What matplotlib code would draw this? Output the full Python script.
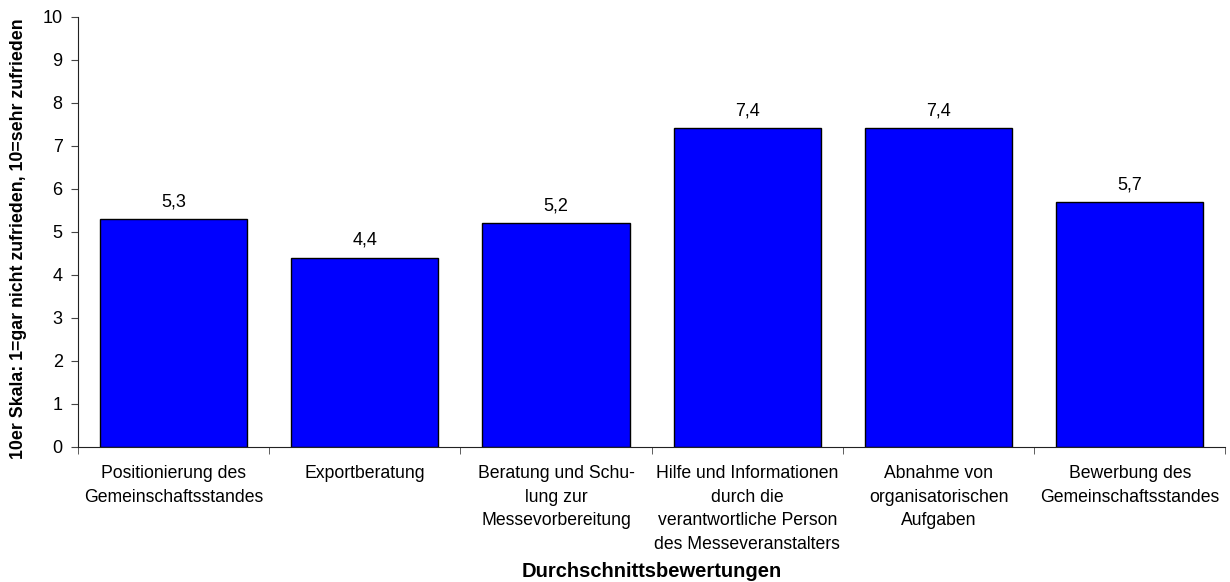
import matplotlib.pyplot as plt
import numpy as np

plt.rcParams['font.family'] = ['Liberation Sans', 'DejaVu Sans']

# Kategorien und Durchschnittswerte
categories = [
    'Positionierung des\nGemeinschaftsstandes',
    'Exportberatung',
    'Beratung und Schu-\nlung zur\nMessevorbereitung',
    'Hilfe und Informationen\ndurch die\nverantwortliche Person\ndes Messeveranstalters',
    'Abnahme von\norganisatorischen\nAufgaben',
    'Bewerbung des\nGemeinschaftsstandes',
]
values = [5.3, 4.4, 5.2, 7.4, 7.4, 5.7]
yticks = list(range(0, 11))

fig = plt.figure(figsize=(12.3, 5.82), dpi=100)
ax = fig.add_axes([0.0634, 0.232, 0.9329, 0.7396])

x = np.arange(len(values))
ax.bar(x, values, width=0.77, color='#0000FF', edgecolor='black', linewidth=1)

for xi, v in zip(x, values):
    ax.text(xi, v + 0.2, f'{v:.1f}'.replace('.', ','), ha='center', va='bottom', fontsize=13)

ax.set_xlim(-0.5, len(values) - 0.5)
ax.set_ylim(0, 10)
ax.set_yticks(yticks)
ax.set_yticklabels([str(t) for t in yticks], fontsize=13)

# Kategorienbeschriftung mittig, Teilstriche zwischen den Gruppen
ax.set_xticks(x)
ax.set_xticklabels(categories, fontsize=12.7, linespacing=1.5, va='top')
ax.tick_params(axis='x', length=0, pad=13)
ax.set_xticks(np.arange(-0.5, len(values)), minor=True)
ax.tick_params(axis='x', which='minor', length=5, direction='out', color='#444444')
ax.tick_params(axis='y', length=5, direction='out', color='#444444', pad=6)

for side in ['top', 'right']:
    ax.spines[side].set_visible(False)
ax.spines['left'].set_color('#222222')
ax.spines['bottom'].set_color('#222222')

ax.set_xlabel('Durchschnittsbewertungen', fontsize=14.5, fontweight='bold', labelpad=7)
ax.set_ylabel('10er Skala: 1=gar nicht zufrieden, 10=sehr zufrieden', fontsize=12.8,
              fontweight='bold')
ax.yaxis.set_label_coords(-0.0445, 0.483)

fig.savefig('out.png', dpi=100)
